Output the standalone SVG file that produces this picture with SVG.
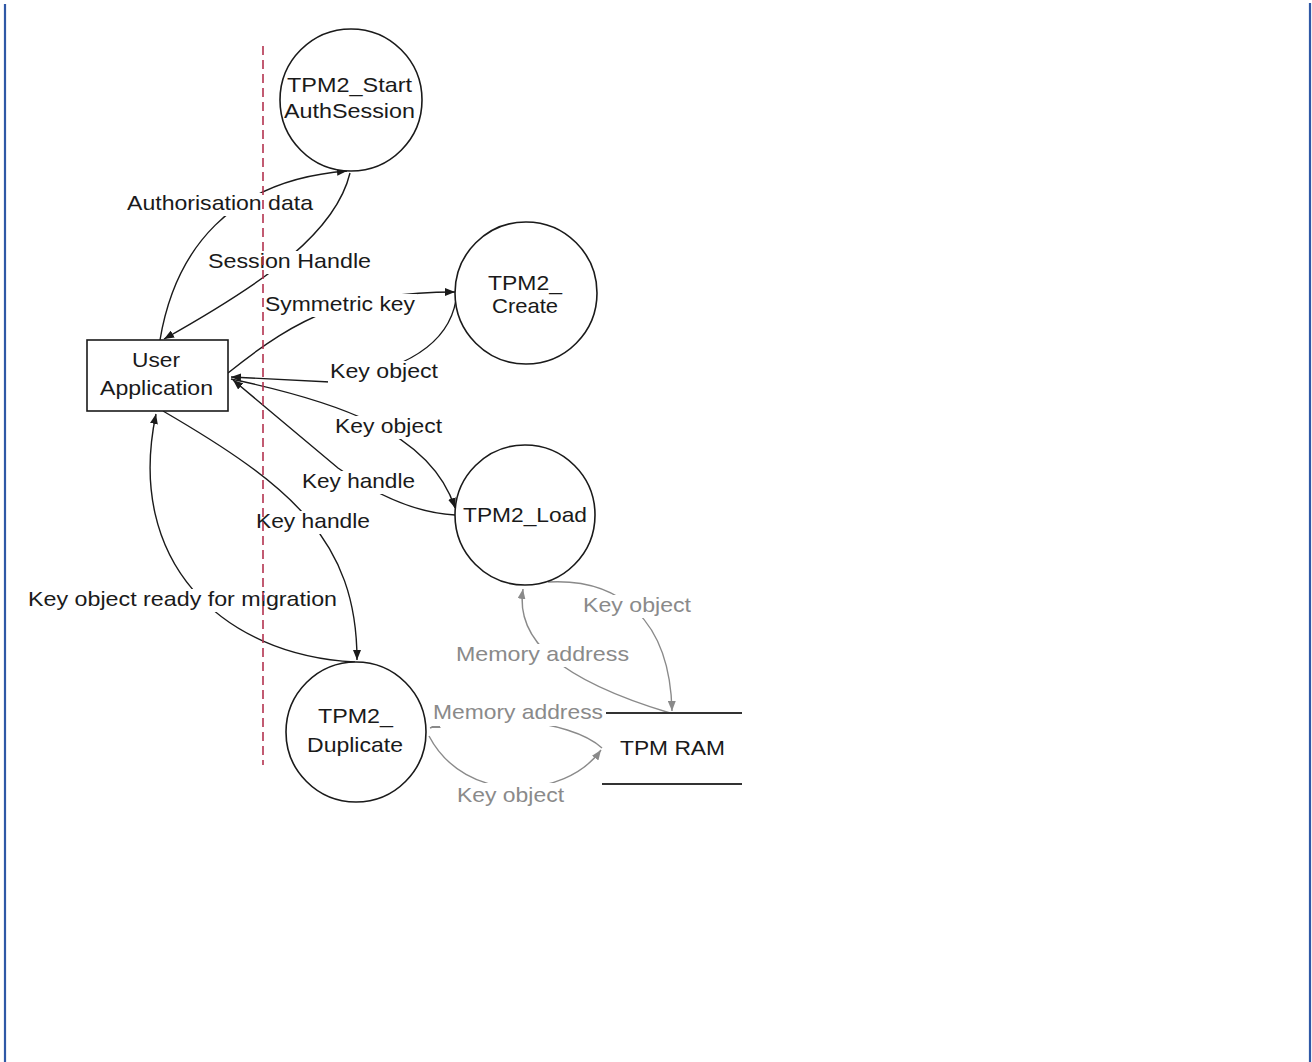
<svg xmlns="http://www.w3.org/2000/svg" width="1312" height="1062" viewBox="0 0 1312 1062">
  <style>
    .node { fill: #fff; stroke: #1a1a1a; stroke-width: 1.6; }
    .lbl { font-family: "Liberation Sans", Arial, sans-serif; font-size: 21px; fill: #1a1a1a; }
    .glbl { font-family: "Liberation Sans", Arial, sans-serif; font-size: 21px; fill: #8a8a8a; }
    .flow { fill: none; stroke: #1a1a1a; stroke-width: 1.4; marker-end: url(#ah); }
    .gflow { fill: none; stroke: #8a8a8a; stroke-width: 1.4; marker-end: url(#gah); }
    .bg { fill: #fff; }
    .store { stroke: #333; stroke-width: 1.8; }
    .border { stroke: #2f58a6; stroke-width: 2.2; }
    .boundary { stroke: #b3324f; stroke-width: 1.6; stroke-dasharray: 9 5; fill: none; }
  </style>
  <defs>
    <marker id="ah" viewBox="0 0 10 8" refX="10" refY="4" markerWidth="10" markerHeight="8" markerUnits="userSpaceOnUse" orient="auto">
      <path d="M0,0 L10,4 L0,8 Z" fill="#1a1a1a"/>
    </marker>
    <marker id="gah" viewBox="0 0 10 8" refX="10" refY="4" markerWidth="10" markerHeight="8" markerUnits="userSpaceOnUse" orient="auto">
      <path d="M0,0 L10,4 L0,8 Z" fill="#8a8a8a"/>
    </marker>
  </defs>

  <rect width="1312" height="1062" fill="#fff"/>

  <!-- page edges -->
  <line class="border" x1="5" y1="4" x2="5" y2="1062"/>
  <line class="border" x1="1310" y1="3" x2="1310" y2="1062"/>

  <!-- data flows -->
  <g id="connectors">
    <path class="flow" d="M160,340 C175,250 230,180 347,171"/>
    <path class="flow" d="M350,173 C335,235 260,285 164,339"/>
    <path class="flow" d="M228,373 C300,315 350,292 455,292"/>
    <path class="flow" d="M456,300 Q445,365 330,382 L231,377"/>
    <path class="flow" d="M231,379 C330,400 430,430 455,508"/>
    <path class="flow" d="M455,515 Q400,512 338,468 L233,380"/>
    <path class="flow" d="M163,411 C290,485 357,540 357,660"/>
    <path class="flow" d="M355,662 C220,655 125,560 156,414"/>
    <path class="gflow" d="M670,713 C560,680 515,640 523,589"/>
    <path class="gflow" d="M548,582 C620,578 670,620 672,711"/>
    <path class="gflow" d="M602,748 C570,718 470,712 430,728"/>
    <path class="gflow" d="M429,736 C465,805 565,800 601,750"/>
  </g>

  <!-- label backgrounds -->
  <g id="label-backgrounds">
    <rect class="bg" x="125" y="193" width="190" height="23"/>
    <rect class="bg" x="206" y="251" width="167" height="23"/>
    <rect class="bg" x="263" y="294" width="154" height="23"/>
    <rect class="bg" x="328" y="361" width="112" height="23"/>
    <rect class="bg" x="333" y="416" width="111" height="23"/>
    <rect class="bg" x="300" y="471" width="117" height="23"/>
    <rect class="bg" x="254" y="511" width="118" height="23"/>
    <rect class="bg" x="26" y="589" width="313" height="23"/>
    <rect class="bg" x="581" y="595" width="112" height="23"/>
    <rect class="bg" x="454" y="644" width="177" height="23"/>
    <rect class="bg" x="431" y="702" width="174" height="24"/>
    <rect class="bg" x="455" y="783" width="111" height="25"/>
  </g>

  <!-- flow labels -->
  <g id="flow-labels">
    <text class="lbl" x="127" y="210" textLength="186" lengthAdjust="spacingAndGlyphs">Authorisation data</text>
    <text class="lbl" x="208" y="268" textLength="163" lengthAdjust="spacingAndGlyphs">Session Handle</text>
    <text class="lbl" x="265" y="311" textLength="150" lengthAdjust="spacingAndGlyphs">Symmetric key</text>
    <text class="lbl" x="330" y="378" textLength="108" lengthAdjust="spacingAndGlyphs">Key object</text>
    <text class="lbl" x="335" y="433" textLength="107" lengthAdjust="spacingAndGlyphs">Key object</text>
    <text class="lbl" x="302" y="488" textLength="113" lengthAdjust="spacingAndGlyphs">Key handle</text>
    <text class="lbl" x="256" y="528" textLength="114" lengthAdjust="spacingAndGlyphs">Key handle</text>
    <text class="lbl" x="28" y="606" textLength="309" lengthAdjust="spacingAndGlyphs">Key object ready for migration</text>
    <text class="glbl" x="583" y="612" textLength="108" lengthAdjust="spacingAndGlyphs">Key object</text>
    <text class="glbl" x="456" y="661" textLength="173" lengthAdjust="spacingAndGlyphs">Memory address</text>
    <text class="glbl" x="433" y="719" textLength="170" lengthAdjust="spacingAndGlyphs">Memory address</text>
    <text class="glbl" x="457" y="802" textLength="107" lengthAdjust="spacingAndGlyphs">Key object</text>
  </g>

  <!-- processes -->
  <g id="start-auth-session">
    <circle class="node" cx="351" cy="100" r="71"/>
    <text class="lbl" x="287" y="92" textLength="125" lengthAdjust="spacingAndGlyphs">TPM2_Start</text>
    <text class="lbl" x="284" y="118" textLength="131" lengthAdjust="spacingAndGlyphs">AuthSession</text>
  </g>
  <g id="create">
    <circle class="node" cx="526" cy="293" r="71"/>
    <text class="lbl" x="488" y="290" textLength="74" lengthAdjust="spacingAndGlyphs">TPM2_</text>
    <text class="lbl" x="492" y="313" textLength="66" lengthAdjust="spacingAndGlyphs">Create</text>
  </g>
  <g id="load">
    <circle class="node" cx="525" cy="515" r="70"/>
    <text class="lbl" x="463" y="522" textLength="124" lengthAdjust="spacingAndGlyphs">TPM2_Load</text>
  </g>
  <g id="duplicate">
    <circle class="node" cx="356" cy="732" r="70"/>
    <text class="lbl" x="318" y="723" textLength="75" lengthAdjust="spacingAndGlyphs">TPM2_</text>
    <text class="lbl" x="307" y="752" textLength="96" lengthAdjust="spacingAndGlyphs">Duplicate</text>
  </g>

  <!-- external entity -->
  <g id="user-application">
    <rect class="node" x="87" y="340" width="141" height="71"/>
    <text class="lbl" x="132" y="367" textLength="48" lengthAdjust="spacingAndGlyphs">User</text>
    <text class="lbl" x="100" y="395" textLength="113" lengthAdjust="spacingAndGlyphs">Application</text>
  </g>

  <!-- data store -->
  <g id="tpm-ram">
    <line class="store" x1="606" y1="713" x2="742" y2="713"/>
    <line class="store" x1="602" y1="784" x2="742" y2="784"/>
    <text class="lbl" x="620" y="755" textLength="105" lengthAdjust="spacingAndGlyphs">TPM RAM</text>
  </g>

  <!-- trust boundary -->
  <line id="boundary" class="boundary" x1="263" y1="46" x2="263" y2="765"/>
</svg>
